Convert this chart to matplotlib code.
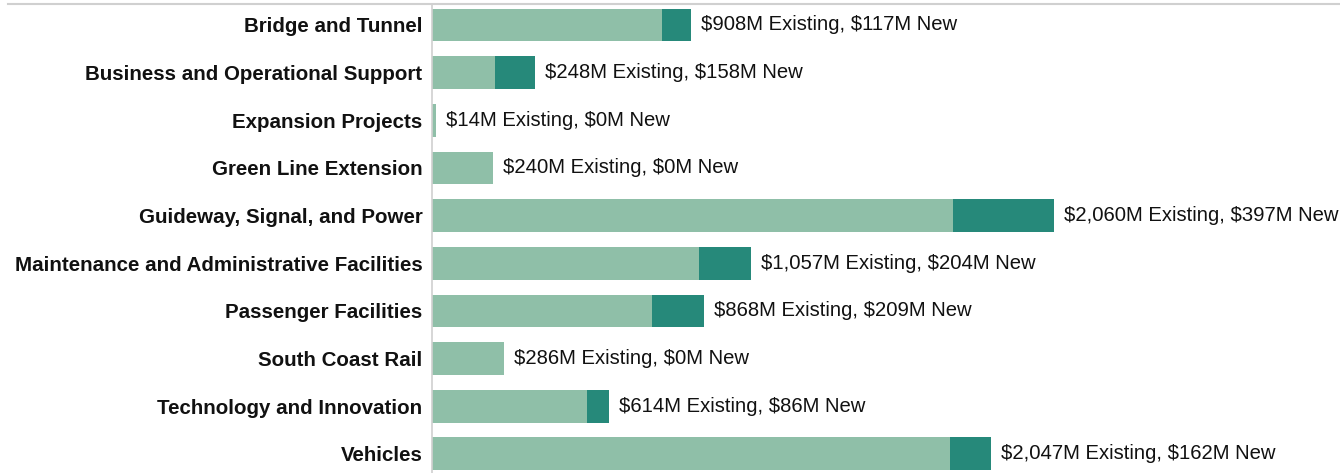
import matplotlib
matplotlib.use("Agg")
import matplotlib.pyplot as plt
from matplotlib.lines import Line2D

categories = ["Bridge and Tunnel", "Business and Operational Support", "Expansion Projects",
              "Green Line Extension", "Guideway, Signal, and Power",
              "Maintenance and Administrative Facilities", "Passenger Facilities",
              "South Coast Rail", "Technology and Innovation", "Vehicles"]
existing = [908, 248, 14, 240, 2060, 1057, 868, 286, 614, 2047]
new = [117, 158, 0, 0, 397, 204, 209, 0, 86, 162]

plt.rcParams['font.family'] = ['Liberation Sans', 'DejaVu Sans']
plt.rcParams['text.usetex'] = False

W, H = 1340, 473
fig = plt.figure(figsize=(W / 100, H / 100), dpi=100)
ax = fig.add_axes([432 / W, 0, (W - 432) / W, (H - 4) / H])

c_exist = "#8fbfa8"
c_new = "#26897a"
y = list(range(len(categories)))
ax.barh(y, existing, height=0.69, color=c_exist, edgecolor='none')
ax.barh(y, new, left=existing, height=0.69, color=c_new, edgecolor='none')

for i, (e, n) in enumerate(zip(existing, new)):
    ax.annotate(f"\\${e:,}M Existing, \\${n:,}M New", xy=(e + n, i), xytext=(10, 0),
                textcoords='offset pixels', va='center', ha='left',
                fontsize=14.6, color='#111111')

ax.set_ylim(9.4, -0.44)
ax.set_xlim(0, (W - 432) / 0.253)
ax.set_yticks(y)
ax.set_yticklabels(categories, fontsize=14.8, fontweight='bold', color='#111111')
ax.tick_params(axis='y', length=0, pad=7)
ax.set_xticks([])
for s in ['top', 'right', 'bottom']:
    ax.spines[s].set_visible(False)
ax.spines['left'].set_color('#d0d0d0')
ax.spines['left'].set_linewidth(1.2)

fig.add_artist(Line2D([8 / W, 1], [1 - 4 / H, 1 - 4 / H], transform=fig.transFigure,
                      color='#d0d0d0', linewidth=1.5))

fig.savefig("out.png", dpi=100)
